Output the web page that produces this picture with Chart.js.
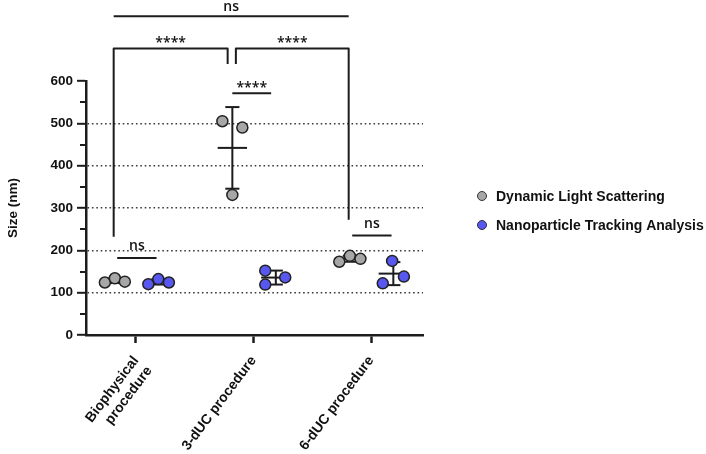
<!DOCTYPE html>
<html>
<head>
<meta charset="utf-8">
<script src="https://cdn.jsdelivr.net/npm/chart.js@4.4.1/dist/chart.umd.min.js"></script>
<style>
    html, body { margin: 0; padding: 0; background: #fff; }
    #wrap { width: 706px; height: 454px; }
</style>
</head>
<body>
<div id="wrap"><canvas id="sizeChart" width="706" height="454"></canvas></div>
<script>
(function () {
    'use strict';

    // sizes (nm), three replicates per procedure
    var categories = [['Biophysical', 'procedure'], '3-dUC procedure', '6-dUC procedure'];
    var seriesNames = ['Dynamic Light Scattering', 'Nanoparticle Tracking Analysis'];
    var dlsValues = [[124, 134, 126], [505, 331, 490], [173, 187, 180]];
    var ntaValues = [[120, 132, 124], [152, 119, 136], [122, 175, 138]];
    var yTicks = [0, 100, 200, 300, 400, 500, 600];
    var comparisonLabels = ['ns', '****', '****', '****', 'ns', 'ns'];

    var seriesValues = [dlsValues, ntaValues];
    var seriesColors = ['#a7a7a7', '#5858f0'];
    var ink = '#1c1c1c';

    // where each group sits around its category, and the spread of the dots
    var groupOffset = [-0.18, 0.19];
    var jitter = [
        [[-0.085, 0, 0.085], [-0.085, 0, 0.09]],
        [[-0.085, 0, 0.085], [-0.09, -0.09, 0.08]],
        [[-0.09, 0, 0.09], [-0.09, -0.01, 0.09]]
    ];

    // significance brackets, in axis units (x = category index, y = nm)
    var brackets = [
        { x1: -0.19, x2: 1.81, y: 753, gap: 5 },
        { x1: -0.19, x2: 0.78, y: 677, down1: 232, down2: 640, gap: 1 },
        { x1: 0.85, x2: 1.81, y: 677, down1: 640, down2: 272, gap: 1 },
        { x1: 0.82, x2: 1.15, y: 571, gap: 1 },
        { x1: -0.16, x2: 0.175, y: 182, gap: 8 },
        { x1: 1.84, x2: 2.175, y: 235, gap: 8 }
    ];

    function mean(list) {
        var sum = 0;
        list.forEach(function (v) { sum += v; });
        return sum / list.length;
    }

    function sd(list) {
        var m = mean(list);
        var sq = 0;
        list.forEach(function (v) { sq += (v - m) * (v - m); });
        return Math.sqrt(sq / (list.length - 1));
    }

    function buildPoints(s) {
        var points = [];
        seriesValues[s].forEach(function (reps, i) {
            reps.forEach(function (v, k) {
                points.push({ x: i + groupOffset[s] + jitter[i][s][k], y: v });
            });
        });
        return points;
    }

    function line(ctx, x1, y1, x2, y2) {
        ctx.beginPath();
        ctx.moveTo(x1, y1);
        ctx.lineTo(x2, y2);
        ctx.stroke();
    }

    function drawErrorBars(chart) {
        var ctx = chart.ctx;
        var xs = chart.scales.x;
        var ys = chart.scales.y;
        ctx.save();
        ctx.strokeStyle = ink;
        ctx.lineWidth = 2;
        seriesValues.forEach(function (series, s) {
            series.forEach(function (reps, i) {
                var m = mean(reps);
                var d = sd(reps);
                var cx = i + groupOffset[s];
                var px = xs.getPixelForValue(cx);
                var top = ys.getPixelForValue(m + d);
                var bottom = ys.getPixelForValue(m - d);
                line(ctx, px, top, px, bottom);
                line(ctx, xs.getPixelForValue(cx - 0.06), top, xs.getPixelForValue(cx + 0.06), top);
                line(ctx, xs.getPixelForValue(cx - 0.06), bottom, xs.getPixelForValue(cx + 0.06), bottom);
                line(ctx, xs.getPixelForValue(cx - 0.125), ys.getPixelForValue(m),
                    xs.getPixelForValue(cx + 0.125), ys.getPixelForValue(m));
            });
        });
        ctx.restore();
    }

    function drawMinorTicks(chart) {
        var ctx = chart.ctx;
        var ys = chart.scales.y;
        var left = chart.chartArea.left;
        ctx.save();
        ctx.strokeStyle = ink;
        ctx.lineWidth = 2;
        for (var k = 0; k < yTicks.length - 1; k++) {
            var py = Math.round(ys.getPixelForValue((yTicks[k] + yTicks[k + 1]) / 2));
            line(ctx, left - 6, py, left, py);
        }
        ctx.restore();
    }

    function drawBrackets(chart) {
        var ctx = chart.ctx;
        var xs = chart.scales.x;
        var ys = chart.scales.y;
        ctx.save();
        ctx.strokeStyle = ink;
        ctx.fillStyle = '#111';
        ctx.lineWidth = 2;
        ctx.lineJoin = 'round';
        ctx.font = '600 14px "Open Sans", "Noto Sans", sans-serif';
        ctx.textAlign = 'center';
        ctx.textBaseline = 'alphabetic';
        brackets.forEach(function (b, i) {
            var x1 = xs.getPixelForValue(b.x1);
            var x2 = xs.getPixelForValue(b.x2);
            var y = ys.getPixelForValue(b.y);
            ctx.beginPath();
            if (b.down1 !== undefined) {
                ctx.moveTo(x1, ys.getPixelForValue(b.down1));
                ctx.lineTo(x1, y);
            } else {
                ctx.moveTo(x1, y);
            }
            ctx.lineTo(x2, y);
            if (b.down2 !== undefined) {
                ctx.lineTo(x2, ys.getPixelForValue(b.down2));
            }
            ctx.stroke();
            ctx.fillText(comparisonLabels[i], (x1 + x2) / 2, y - b.gap);
        });
        ctx.restore();
    }

    function drawLegend(chart) {
        var ctx = chart.ctx;
        var x = 482;
        var y = 196;
        ctx.save();
        ctx.font = 'bold 14px "Liberation Sans", Arial, sans-serif';
        ctx.textBaseline = 'middle';
        ctx.textAlign = 'left';
        seriesNames.forEach(function (name, s) {
            var py = y + s * 29;
            ctx.beginPath();
            ctx.arc(x, py, 4.5, 0, Math.PI * 2);
            ctx.fillStyle = seriesColors[s];
            ctx.fill();
            ctx.lineWidth = 1;
            ctx.strokeStyle = '#333';
            ctx.stroke();
            ctx.fillStyle = '#111';
            ctx.fillText(name, x + 14, py + 1);
        });
        ctx.restore();
    }

    var overlay = {
        id: 'overlay',
        beforeDatasetsDraw: function (chart) {
            drawErrorBars(chart);
        },
        afterDraw: function (chart) {
            drawMinorTicks(chart);
            drawBrackets(chart);
            drawLegend(chart);
        }
    };

    var datasets = seriesNames.map(function (name, s) {
        return {
            label: name,
            data: buildPoints(s),
            backgroundColor: seriesColors[s],
            borderColor: '#222',
            borderWidth: 1.5,
            pointRadius: 5.5,
            pointHoverRadius: 5.5
        };
    });

    new Chart(document.getElementById('sizeChart'), {
        type: 'scatter',
        data: { datasets: datasets },
        plugins: [overlay],
        options: {
            responsive: false,
            animation: false,
            events: [],
            layout: { padding: { top: 81, right: 283, left: 0, bottom: 0 } },
            plugins: {
                legend: { display: false },
                tooltip: { enabled: false }
            },
            scales: {
                x: {
                    type: 'linear',
                    min: -0.4255,
                    max: 2.4425,
                    afterBuildTicks: function (scale) {
                        scale.ticks = categories.map(function (c, i) { return { value: i }; });
                    },
                    afterFit: function (scale) {
                        scale.height = 119;
                    },
                    ticks: {
                        minRotation: 53,
                        maxRotation: 53,
                        padding: 10,
                        color: '#111',
                        font: { family: '"Liberation Sans", Arial, sans-serif', size: 14, weight: 'bold' },
                        callback: function (value) {
                            return categories[value];
                        }
                    },
                    grid: {
                        drawOnChartArea: false,
                        drawTicks: true,
                        tickLength: 8,
                        tickWidth: 2.5,
                        tickColor: ink
                    },
                    border: { display: true, color: ink, width: 2.5 }
                },
                y: {
                    min: yTicks[0],
                    max: yTicks[yTicks.length - 1],
                    afterBuildTicks: function (scale) {
                        scale.ticks = yTicks.map(function (v) { return { value: v }; });
                    },
                    afterFit: function (scale) {
                        scale.width = 86;
                    },
                    title: {
                        display: true,
                        text: 'Size (nm)',
                        color: '#111',
                        padding: { top: 5, bottom: 0 },
                        font: { family: '"Liberation Sans", Arial, sans-serif', size: 13.5, weight: 'bold' }
                    },
                    ticks: {
                        padding: 4,
                        color: '#111',
                        font: { family: '"Liberation Sans", Arial, sans-serif', size: 13.5, weight: 'bold' }
                    },
                    grid: {
                        drawOnChartArea: true,
                        tickLength: 9,
                        tickWidth: 2,
                        tickColor: ink,
                        lineWidth: 1.6,
                        color: function (c) {
                            var v = c.tick ? c.tick.value : 0;
                            return (v > yTicks[0] && v < yTicks[yTicks.length - 1]) ? '#3a3a3a' : 'rgba(0,0,0,0)';
                        }
                    },
                    border: { display: true, color: ink, width: 2.5, dash: [1.6, 2.8] }
                }
            }
        }
    });
})();
</script>
</body>
</html>
